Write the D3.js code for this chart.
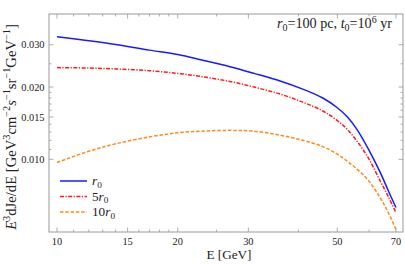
<!DOCTYPE html>
<html>
<head>
<meta charset="utf-8">
<script src="https://cdn.jsdelivr.net/npm/d3@7"></script>
<style>
  body { margin: 0; background: #fff; }
  svg text { font-family: "Liberation Serif", "Times New Roman", "DejaVu Serif", serif; fill: #222; }
</style>
</head>
<body>
<div id="chart"></div>
<script>
// energies (GeV) and E^3 dJ/dE values
var energy   = [10, 12, 14, 17, 20, 23, 27, 31, 36, 41, 46, 50, 53, 56, 60, 64, 67, 70];
var fluxR0   = [0.0324, 0.0312, 0.0301, 0.0285, 0.0273, 0.0259, 0.0243, 0.0228, 0.0212, 0.0196, 0.0180, 0.0164, 0.0150, 0.0133, 0.0109, 0.0088, 0.0074, 0.0063];
var flux5R0  = [0.0241, 0.0240, 0.0238, 0.0234, 0.0228, 0.0221, 0.0211, 0.0200, 0.0187, 0.0173, 0.0159, 0.0145, 0.0133, 0.0119, 0.0100, 0.0081, 0.0070, 0.0060];
var flux10R0 = [0.0097, 0.0108, 0.0116, 0.0124, 0.0129, 0.0131, 0.0132, 0.0131, 0.0126, 0.0120, 0.0113, 0.0105, 0.0098, 0.0091, 0.0081, 0.0069, 0.0060, 0.0051];

var xTicks = [10, 15, 20, 30, 50, 70];
var xMinor = [11, 12, 13, 14, 16, 17, 18, 19, 25, 40, 60];
var yTicks = [0.010, 0.015, 0.020, 0.030];
var yMinor = [0.011, 0.012, 0.013, 0.014, 0.016, 0.017, 0.018, 0.019, 0.025];

var series = [
  {k: "", values: fluxR0, color: "#1a1aff", dash: null},
  {k: "5", values: flux5R0, color: "#ff1a1a", dash: "4,1.5,1.2,1.5"},
  {k: "10", values: flux10R0, color: "#ff8c1a", dash: "3.5,1.8"}
];

var margin = { top: 14, right: 2, bottom: 32, left: 49 },
    width = 405 - margin.left - margin.right,
    height = 264 - margin.top - margin.bottom;

var x = d3.scaleLog().domain([9.551, 72.9]).range([0, width]);
var y = d3.scaleLog().domain([0.00498, 0.0403]).range([height, 0]);

var svg = d3.select("#chart").append("svg")
    .attr("width", 405)
    .attr("height", 264)
    .append("g")
    .attr("transform", "translate(" + margin.left + "," + margin.top + ")");

// rich text: parts are [text, kind] with kind "", "i" (italic), "sup", "sub"
function rich(el, parts, size) {
  el.selectAll("tspan").remove();
  el.style("font-size", size + "px");
  var shift = 0;
  parts.forEach(function(p) {
    var target = p[1] === "sup" ? -0.36 * size : p[1] === "sub" ? 0.22 * size : 0;
    var ts = el.append("tspan").attr("dy", target - shift).text(p[0]);
    if (p[1] === "i") ts.style("font-style", "italic");
    if (p[1] === "sup" || p[1] === "sub") ts.style("font-size", (size * 0.7) + "px");
    shift = target;
  });
}
// pick a font size so the text is as wide as in the picture
function fitRich(el, parts, size, target) {
  rich(el, parts, size);
  var w = el.node().getComputedTextLength();
  rich(el, parts, size * target / w);
}

// ticks on all four sides, pointing inwards
var frameColor = "#9a9a9a";
function xTickMarks(vals, len) {
  vals.forEach(function(v) {
    svg.append("line").attr("x1", x(v)).attr("x2", x(v)).attr("y1", height).attr("y2", height - len)
      .attr("stroke", frameColor).attr("stroke-width", 0.8);
    svg.append("line").attr("x1", x(v)).attr("x2", x(v)).attr("y1", 0).attr("y2", len)
      .attr("stroke", frameColor).attr("stroke-width", 0.8);
  });
}
function yTickMarks(vals, len) {
  vals.forEach(function(v) {
    svg.append("line").attr("y1", y(v)).attr("y2", y(v)).attr("x1", 0).attr("x2", len)
      .attr("stroke", frameColor).attr("stroke-width", 0.8);
    svg.append("line").attr("y1", y(v)).attr("y2", y(v)).attr("x1", width).attr("x2", width - len)
      .attr("stroke", frameColor).attr("stroke-width", 0.8);
  });
}
xTickMarks(xTicks, 4.5);
xTickMarks(xMinor, 2.5);
yTickMarks(yTicks, 4.5);
yTickMarks(yMinor, 2.5);

svg.append("rect")
  .attr("width", width).attr("height", height)
  .attr("fill", "none").attr("stroke", frameColor).attr("stroke-width", 1);

// tick label size from the width of "0.030"
var probe = svg.append("text").style("font-size", "11px").text("0.030");
var tickSize = 11 * 23.3 / probe.node().getComputedTextLength();
probe.remove();

svg.selectAll(".xl").data(xTicks).enter().append("text")
  .attr("x", function(d) { return x(d); })
  .attr("y", height + 13)
  .attr("text-anchor", "middle")
  .style("font-size", tickSize + "px")
  .text(function(d) { return d; });

svg.selectAll(".yl").data(yTicks).enter().append("text")
  .attr("x", -4.5)
  .attr("y", function(d) { return y(d) + 3.5; })
  .attr("text-anchor", "end")
  .style("font-size", tickSize + "px")
  .text(function(d) { return d3.format(".3f")(d); });

// curves
var line = d3.line()
  .x(function(d) { return x(d[0]); })
  .y(function(d) { return y(d[1]); })
  .curve(d3.curveCatmullRom);

series.forEach(function(s) {
  svg.append("path")
    .datum(energy.map(function(e, i) { return [e, s.values[i]]; }))
    .attr("fill", "none")
    .attr("stroke", s.color)
    .attr("stroke-width", 1.5)
    .attr("stroke-dasharray", s.dash)
    .attr("d", line);
});

// legend
var probe2 = svg.append("text");
fitRich(probe2, [["10", ""], ["r", "i"], ["0", "sub"]], 13, 23);
var legendSize = parseFloat(probe2.style("font-size"));
probe2.remove();

var legend = svg.append("g").attr("transform", "translate(11,167)");
series.forEach(function(s, i) {
  var g = legend.append("g").attr("transform", "translate(0," + (i * 15.5) + ")");
  g.append("line").attr("x1", 0).attr("x2", 27).attr("y1", 0).attr("y2", 0)
    .attr("stroke", s.color).attr("stroke-width", 1.5).attr("stroke-dasharray", s.dash);
  var t = g.append("text").attr("x", 32).attr("y", 4);
  rich(t, [[s.k, ""], ["r", "i"], ["0", "sub"]], legendSize);
});

// annotation
var note = svg.append("text").attr("x", width - 11).attr("y", 14)
  .attr("text-anchor", "end");
fitRich(note, [["r", "i"], ["0", "sub"], ["=100 pc, ", ""], ["t", "i"], ["0", "sub"],
               ["=10", ""], ["6", "sup"], [" yr", ""]], 12, 115);

// axis titles
var xt = svg.append("text")
  .attr("x", width / 2 + 3)
  .attr("y", height + 27)
  .attr("text-anchor", "middle");
fitRich(xt, [["E [GeV]", ""]], 12, 45);

var yt = svg.append("text")
  .attr("transform", "translate(-33.5," + (height / 2 + 4) + ") rotate(-90)")
  .attr("text-anchor", "middle");
fitRich(yt, [["E", "i"], ["3", "sup"], ["dJe/dE [GeV", ""], ["3", "sup"], ["cm", ""], ["\u22122", "sup"],
             ["s", "i"], ["\u22121", "sup"], ["sr", ""], ["\u22121", "sup"], ["GeV", ""], ["\u22121", "sup"], ["]", ""]], 11.5, 206);
</script>
</body>
</html>
